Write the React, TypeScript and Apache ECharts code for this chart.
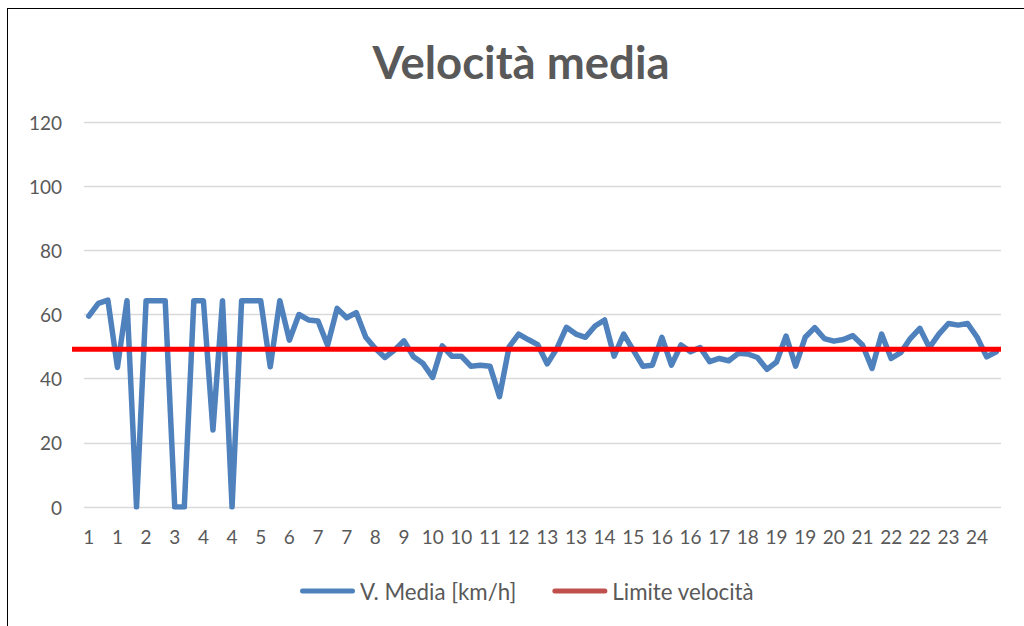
import React, { useEffect, useRef } from "react";
import * as echarts from "echarts";

// Hour of each 15-minute sample (96 samples, label shown every 3rd)
const hours: string[] = [
  "1","1","1","1","2","2","2","2","3","3","3","3","4","4","4","4",
  "5","5","5","5","6","6","6","6","7","7","7","7","8","8","8","8",
  "9","9","9","9","10","10","10","10","11","11","11","11","12","12","12","12",
  "13","13","13","13","14","14","14","14","15","15","15","15","16","16","16","16",
  "17","17","17","17","18","18","18","18","19","19","19","19","20","20","20","20",
  "21","21","21","21","22","22","22","22","23","23","23","23","24","24","24","24",
];

const speedValues: number[] = [
  59.5, 63.5, 64.5, 43.5, 64.3, 0, 64.3, 64.3, 64.3, 0, 0, 64.3, 64.3, 24, 64.3, 0,
  64.3, 64.3, 64.3, 43.7, 64.3, 52, 60, 58.3, 58, 50.4, 61.9, 59, 60.6, 52.9, 49.4, 46.6,
  48.9, 51.8, 46.8, 44.7, 40.4, 50.2, 47, 47, 43.9, 44.2, 43.9, 34.4, 49.9, 53.9, 52.2, 50.6,
  44.6, 49.4, 56, 53.9, 52.9, 56.4, 58.3, 47, 53.9, 48.9, 43.9, 44.2, 52.9, 44.2, 50.5, 48.4,
  49.7, 45.3, 46.3, 45.6, 47.9, 47.7, 46.6, 42.9, 45.2, 53.3, 43.9, 52.9, 55.9, 52.5, 51.7, 52.2,
  53.4, 50.5, 43.2, 53.9, 46.3, 48.1, 52.5, 55.7, 49.7, 53.9, 57.2, 56.7, 57.2, 52.9, 46.8, 48.4,
];

const limitEnds: string[] = ["start", "end"];
const limitValues: number[] = [49.2, 49.2];

const TITLE = "Velocità media";
const SPEED_NAME = "V. Media [km/h]";
const LIMIT_NAME = "Limite velocità";

const FONT = "Lato, 'Open Sans', sans-serif";
const TEXT_COLOR = "#595959";
const ICON = "path://M2.5,0 L52.5,0 A2.5,2.5 0 0 1 52.5,5 L2.5,5 A2.5,2.5 0 0 1 2.5,0 Z";

export default function App() {
  const ref = useRef<HTMLDivElement>(null);

  useEffect(() => {
    document.body.style.margin = "0";
    document.body.style.overflow = "hidden";
    if (!ref.current) return;
    const chart = echarts.init(ref.current, undefined, { renderer: "svg" });
    chart.setOption({
      animation: false,
      backgroundColor: "transparent",
      textStyle: { fontFamily: FONT },
      title: {
        text: TITLE,
        left: 516,
        top: 33,
        textAlign: "center",
        textStyle: { fontFamily: FONT, fontSize: 45.5, fontWeight: "bold", color: TEXT_COLOR },
      },
      legend: {
        left: 295,
        top: 575,
        itemWidth: 55,
        itemHeight: 5,
        itemGap: 36,
        icon: ICON,
        textStyle: { fontFamily: FONT, fontSize: 22.3, color: TEXT_COLOR },
        data: [
          { name: SPEED_NAME, itemStyle: { color: "#4F81BD" } },
          { name: LIMIT_NAME, itemStyle: { color: "#C0504D" } },
        ],
      },
      grid: [
        { left: 84, right: 23, top: 122, height: 385 },
        { left: 72, right: 23, top: 122, height: 385 },
      ],
      xAxis: [
        {
          type: "category",
          gridIndex: 0,
          data: hours,
          boundaryGap: true,
          axisLine: { show: false },
          axisTick: { show: false },
          axisLabel: { interval: 2, margin: 20, fontSize: 19, color: TEXT_COLOR, fontFamily: FONT },
        },
        {
          type: "category",
          gridIndex: 1,
          data: limitEnds,
          boundaryGap: false,
          show: false,
        },
      ],
      yAxis: [
        {
          type: "value",
          gridIndex: 0,
          min: 0,
          max: 120,
          interval: 20,
          axisLine: { show: false },
          axisTick: { show: false },
          splitLine: { lineStyle: { color: "#D9D9D9", width: 1.3 } },
          axisLabel: { margin: 22, fontSize: 19, color: TEXT_COLOR, fontFamily: FONT },
        },
        {
          type: "value",
          gridIndex: 1,
          min: 0,
          max: 120,
          show: false,
        },
      ],
      series: [
        {
          name: SPEED_NAME,
          type: "line",
          xAxisIndex: 0,
          yAxisIndex: 0,
          data: speedValues,
          symbol: "none",
          lineStyle: { color: "#4F81BD", width: 5.5, cap: "round", join: "round" },
          itemStyle: { color: "#4F81BD" },
          z: 2,
        },
        {
          name: LIMIT_NAME,
          type: "line",
          xAxisIndex: 1,
          yAxisIndex: 1,
          data: limitValues,
          symbol: "none",
          lineStyle: { color: "#FF0000", width: 5 },
          itemStyle: { color: "#C0504D" },
          z: 3,
        },
      ],
    });
    return () => chart.dispose();
  }, []);

  return (
    <div style={{ position: "relative", width: 1024, height: 626, overflow: "hidden", background: "#fff" }}>
      <div ref={ref} style={{ position: "absolute", left: 0, top: 0, width: 1024, height: 626 }} />
      <div
        style={{
          position: "absolute",
          left: 7,
          top: 8,
          width: 1100,
          height: 700,
          borderLeft: "1px solid #000",
          borderTop: "1px solid #000",
          pointerEvents: "none",
        }}
      />
    </div>
  );
}
